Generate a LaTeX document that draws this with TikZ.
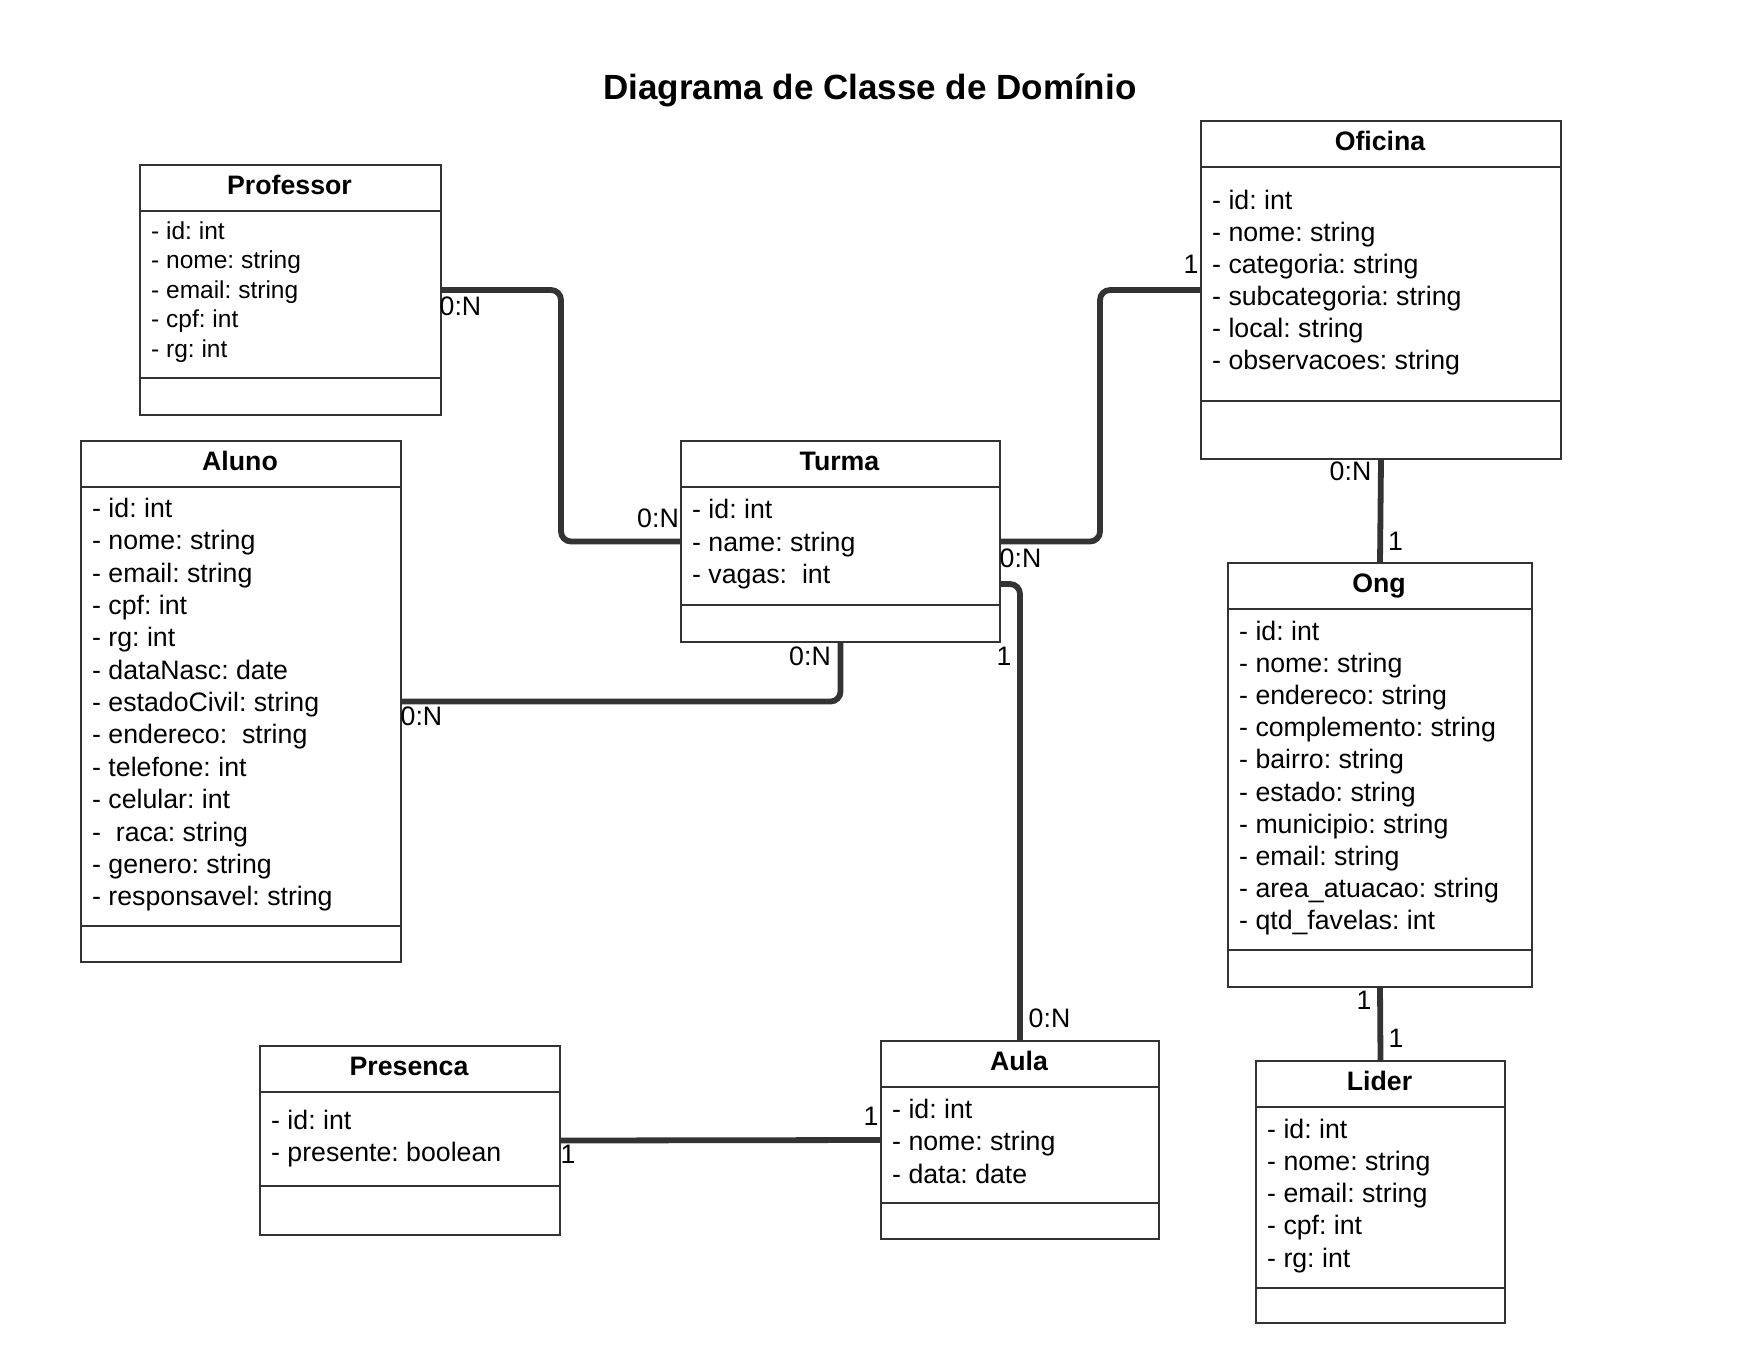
\documentclass[tikz,border=0pt]{standalone}
\usepackage{fontspec}
\setmainfont{Liberation Sans}
\frenchspacing
\usetikzlibrary{calc}
\definecolor{boxc}{HTML}{333333}
\definecolor{linec}{HTML}{333333}
\newcommand{\attrfont}{\fontsize{26.7}{32}\selectfont}
\newcommand{\smallattrfont}{\fontsize{24.5}{29}\selectfont}
\newcommand{\headfont}{\fontsize{26.7}{32}\selectfont\bfseries}
\newcommand{\titlefont}{\fontsize{35}{40}\selectfont\bfseries}
\begin{document}
\begin{tikzpicture}[x=1pt,y=-1pt,
  box/.style={draw=boxc, line width=2pt, fill=white, anchor=north west, inner sep=0pt},
  sepline/.style={draw=boxc, line width=2pt},
  conn/.style={draw=linec, line width=5.8pt, rounded corners=10pt},
  attr/.style={anchor=base west, inner sep=0pt, font=\attrfont},
  sattr/.style={anchor=base west, inner sep=0pt, font=\smallattrfont},
  head/.style={anchor=base, inner sep=0pt, font=\headfont},
  lbl/.style={anchor=base, inner sep=0pt, font=\attrfont}]
\fill[white] (0,0) rectangle (1760,1360);
\useasboundingbox (0,0) rectangle (1760,1360);

\node[anchor=base, inner sep=0pt, font=\titlefont] (title) at (870,99.5) {Diagrama de Classe de Domínio};

% boxes
\node[box, minimum width=301pt, minimum height=250pt] (prof) at (139,164) {};
\node[box, minimum width=320pt, minimum height=521pt] (aluno) at (80,440) {};
\node[box, minimum width=319pt, minimum height=201pt] (turma) at (680,440) {};
\node[box, minimum width=360pt, minimum height=338pt] (ofi) at (1200,120) {};
\node[box, minimum width=304pt, minimum height=424pt] (ong) at (1227,562) {};
\node[box, minimum width=249pt, minimum height=262pt] (lider) at (1255,1060) {};
\node[box, minimum width=300pt, minimum height=189pt] (pres) at (259,1045) {};
\node[box, minimum width=278pt, minimum height=198pt] (aula) at (880,1040) {};

% header and section lines
\foreach \n/\w/\s in {prof/301/38, aluno/320/37, turma/319/38, ofi/360/59, ong/304/38, lider/249/36, pres/300/50, aula/278/37}{
  \draw[sepline] (\n.north west) ++(0,47) -- ++(\w,0);
  \draw[sepline] (\n.south west) ++(0,-\s) -- ++(\w,0);
}

% headers
\node[head] (prof-h) at (289.5,194.5) {Professor};
\node[head] (aluno-h) at (240,470.5) {Aluno};
\node[head] (turma-h) at (839.5,470.5) {Turma};
\node[head] (ofi-h) at (1380,150) {Oficina};
\node[head] (ong-h) at (1379,592) {Ong};
\node[head] (lider-h) at (1379.5,1090.5) {Lider};
\node[head] (pres-h) at (409,1075) {Presenca};
\node[head] (aula-h) at (1019,1070) {Aula};

% attributes
\foreach \t [count=\i from 0] in {- id: int, - nome: string, - email: string, - cpf: int, - rg: int}
  \node[sattr] (prof-\i) at (151,239.5+29.4*\i) {\t};
\foreach \t [count=\i from 0] in {- id: int, - nome: string, - email: string, - cpf: int, - rg: int, - dataNasc: date, - estadoCivil: string, - endereco:~ string, - telefone: int, - celular: int, -~ raca: string, - genero: string, - responsavel: string}
  \node[attr] (aluno-\i) at (92,517.5+32.35*\i) {\t};
\foreach \t [count=\i from 0] in {- id: int, - name: string, - vagas:~ int}
  \node[attr] (turma-\i) at (692,518.6+32.5*\i) {\t};
\foreach \t [count=\i from 0] in {- id: int, - nome: string, - categoria: string, - subcategoria: string, - local: string, - observacoes: string}
  \node[attr] (ofi-\i) at (1212,209.3+32*\i) {\t};
\foreach \t [count=\i from 0] in {- id: int, - nome: string, - endereco: string, - complemento: string, - bairro: string, - estado: string, - municipio: string, - email: string, - area\_atuacao: string, - qtd\_favelas: int}
  \node[attr] (ong-\i) at (1239,640+32.2*\i) {\t};
\foreach \t [count=\i from 0] in {- id: int, - nome: string, - email: string, - cpf: int, - rg: int}
  \node[attr] (lider-\i) at (1267,1138+32.3*\i) {\t};
\foreach \t [count=\i from 0] in {- id: int, - presente: boolean}
  \node[attr] (pres-\i) at (271,1129+32.7*\i) {\t};
\foreach \t [count=\i from 0] in {- id: int, - nome: string, - data: date}
  \node[attr] (aula-\i) at (892,1118+32.5*\i) {\t};

% connectors
\draw[conn] (prof.east) -- ++(119,0) |- (turma.west);
\draw[conn] (turma.east) -- ++(99,0) |- (ofi.west);
\draw[conn] (turma.south) |- (aluno.east);
\draw[conn] ($(turma.east)+(0,42.5)$) -| (aula.north);
\draw[conn] (ofi.south) -- (ong.north);
\draw[conn] (ong.south) -- (lider.north);
\draw[conn] (pres.east) -- (aula.west);

% multiplicity labels
\node[lbl] (l1) at (460.5,315) {0:N};
\node[lbl] (l2) at (658,527) {0:N};
\node[lbl] (l3) at (1020.5,567) {0:N};
\node[lbl] (l4) at (1191,273) {1};
\node[lbl] (l5) at (810,665) {0:N};
\node[lbl] (l6) at (421.5,725.5) {0:N};
\node[lbl] (l7) at (1004,665) {1};
\node[lbl] (l8) at (1049.5,1027.5) {0:N};
\node[lbl] (l9) at (1350.5,480) {0:N};
\node[lbl] (l10) at (1395.5,550) {1};
\node[lbl] (l11) at (1364,1009) {1};
\node[lbl] (l12) at (1396,1047) {1};
\node[lbl] (l13) at (568,1163) {1};
\node[lbl] (l14) at (871,1125) {1};
\end{tikzpicture}
\end{document}
